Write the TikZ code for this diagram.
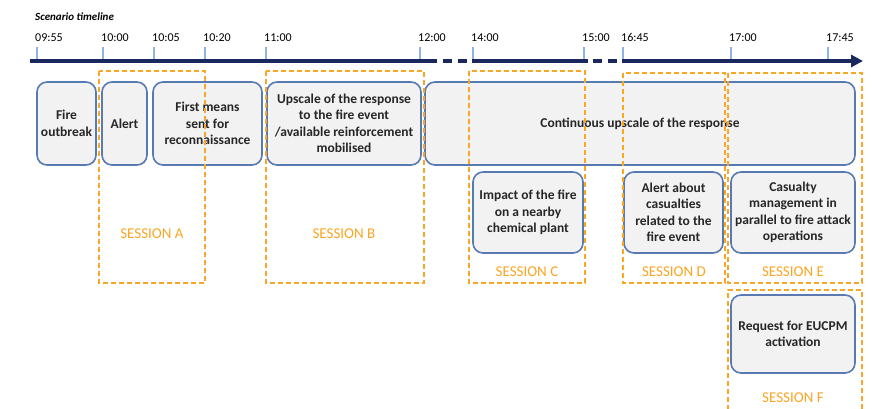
\documentclass[tikz,border=0pt]{standalone}
\usepackage{fontspec}
\setmainfont{Carlito}
\usetikzlibrary{arrows.meta}

\definecolor{azuleje}{RGB}{27,40,96}
\definecolor{azulmarca}{RGB}{141,180,226}
\definecolor{borde}{RGB}{88,122,178}
\definecolor{relleno}{RGB}{242,242,242}
\definecolor{naranja}{RGB}{250,165,35}

\tikzset{
	caja/.style={draw=borde, fill=relleno, line width=1.6pt, rounded corners=10pt, align=center, inner sep=2pt,
		font=\fontsize{13.5}{16.5}\selectfont\bfseries, text=black!85},
	sesion/.style={draw=naranja, line width=1.8pt, dash pattern=on 5pt off 3pt},
	etiqueta/.style={text=naranja, font=\fontsize{15}{18}\selectfont},
	eje/.style={azuleje, line width=4pt},
}

\begin{document}
\begin{tikzpicture}[x=1pt, y=-1pt]
		\useasboundingbox (0,0) rectangle (875,408);
		
		% Titulo
		\node[anchor=base west, inner sep=0pt, font=\fontsize{11}{13}\selectfont\bfseries\itshape] (titulo) at (35,20) {Scenario timeline};
		
		% Marcas y horas
		\foreach \x/\t in {37/09:55, 103/10:00, 154/10:05, 205/10:20, 266/11:00, 420/12:00, 473/14:00, 584/15:00, 623/16:45, 731/17:00, 828/17:45}{
			\draw[azulmarca, line width=1.2pt] (\x, 47) -- (\x, 59);
			\node[anchor=base west, inner sep=0pt, font=\fontsize{12}{14}\selectfont] (h\x) at (\x - 2, 41) {\t};}
		
		% Eje
		\coordinate (e0) at (30, 61);
		\coordinate (e1) at (428, 61);
		\coordinate (e2) at (472, 61);
		\coordinate (e3) at (588, 61);
		\coordinate (e4) at (622, 61);
		\coordinate (e5) at (863, 61);
		\draw[eje] (e0) -- (e1);
		\draw[eje, dash pattern=on 9pt off 6pt] (e1) -- (e2);
		\draw[eje] (e2) -- (e3);
		\draw[eje, dash pattern=on 9pt off 6pt] ([xshift=5pt]e3) -- (e4);
		\draw[eje, -{Triangle[length=12pt, width=12pt]}] (e4) -- (e5);
		
		% Cajas
		\node[caja, minimum width=59pt, minimum height=83pt] (fuego) at (66.5, 123.5) {Fire\\outbreak};
		\node[caja, minimum width=45pt, minimum height=83pt] (alerta) at (124.5, 123.5) {Alert};
		\node[caja, minimum width=109pt, minimum height=83pt] (medios) at (207.5, 123.5) {First means\\sent for\\reconnaissance};
		\node[caja, minimum width=154pt, minimum height=83pt] (refuerzo) at (344, 123.5) {Upscale of the response\\to the fire event\\/available reinforcement\\mobilised};
		\node[caja, minimum width=430pt, minimum height=83pt] (continuo) at (640, 123.5) {Continuous upscale of the response};
		\node[caja, minimum width=110pt, minimum height=81pt] (impacto) at (528, 212.5) {Impact of the fire\\on a nearby\\chemical plant};
		\node[caja, minimum width=99pt, minimum height=81pt] (victimas) at (673.5, 212.5) {Alert about\\casualties\\related to the\\fire event};
		\node[caja, minimum width=124pt, minimum height=81pt] (gestion) at (793, 212.5) {Casualty\\management in\\parallel to fire attack\\operations};
		\node[caja, minimum width=124pt, minimum height=78pt] (eucpm) at (793, 334) {Request for EUCPM\\activation};
		
		% Sesiones
		\draw[sesion] (99, 71) rectangle (205, 283);
		\draw[sesion] (266, 71) rectangle (424, 283);
		\draw[sesion] (469, 71) rectangle (585, 283);
		\draw[sesion] (623, 73) rectangle (725, 283);
		\draw[sesion] (728, 73) rectangle (862, 283);
		\draw[sesion] (728, 410) -- (728, 290) -- (862, 290) -- (862, 410);
		\node[etiqueta] (sa) at (152, 234) {SESSION A};
		\node[etiqueta] (sb) at (344, 234) {SESSION B};
		\node[etiqueta] (sc) at (527, 272) {SESSION C};
		\node[etiqueta] (sd) at (674, 272) {SESSION D};
		\node[etiqueta] (se) at (793, 272) {SESSION E};
		\node[etiqueta] (sf) at (793, 398) {SESSION F};
	\end{tikzpicture}
\end{document}
